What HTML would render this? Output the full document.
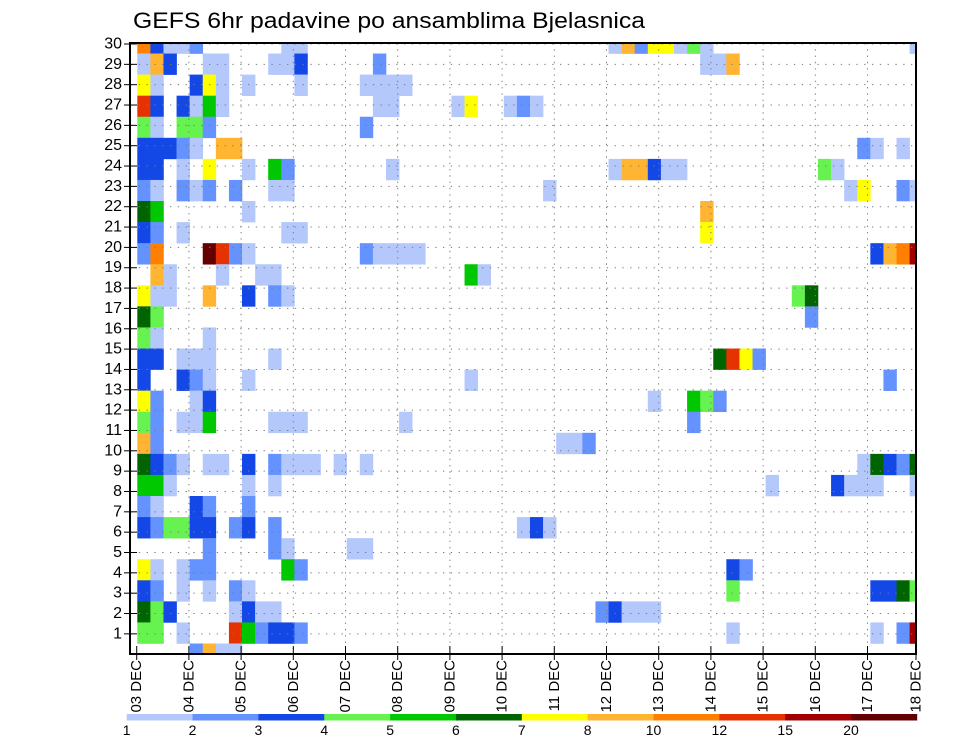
<!DOCTYPE html>
<html>
<head>
<meta charset="utf-8">
<style>
  html,body{margin:0;padding:0;background:#fff;}
  svg{display:block;}
  text{font-family:"Liberation Sans", sans-serif;fill:#000;}
</style>
</head>
<body>
<svg id="chart" width="960" height="742" viewBox="0 0 960 742">
  <defs>
    <clipPath id="plotClip"><rect x="131" y="43" width="785" height="611"/></clipPath>
  </defs>
  <text x="133" y="28" font-size="22" textLength="512" lengthAdjust="spacingAndGlyphs">GEFS 6hr padavine po ansamblima Bjelasnica</text>
  <g id="cells" clip-path="url(#plotClip)"></g>
  <g id="grid" clip-path="url(#plotClip)"></g>
  <rect x="130" y="43" width="786" height="611" fill="none" stroke="#000" stroke-width="2"/>
  <g id="yaxis"></g>
  <g id="xaxis"></g>
  <g id="colorbar"></g>
</svg>
<script>
// ---- data ----
const memberLabels = [1,2,3,4,5,6,7,8,9,10,11,12,13,14,15,16,17,18,19,20,21,22,23,24,25,26,27,28,29,30];
const dayLabels = ["03 DEC","04 DEC","05 DEC","06 DEC","07 DEC","08 DEC","09 DEC","10 DEC","11 DEC","12 DEC","13 DEC","14 DEC","15 DEC","16 DEC","17 DEC","18 DEC"];
const levelLabels = ["1","2","3","4","5","6","7","8","10","12","15","20"];
const levelColors = ["#b4c8fc","#6492ff","#1448e6","#66f24f","#00c800","#006400","#ffff00","#ffb432","#ff8000","#e63200","#a00000","#640000"];
// each row: "col:level" pairs (level 1..12), rows ordered top to bottom
const cellRows = [
 "0:9 1:3 2:1 3:1 4:2 11:1 12:1 36:1 37:8 38:2 39:7 40:7 41:1 42:4 43:1 59:1",
 "0:1 1:8 2:3 5:1 6:1 10:1 11:1 12:3 18:2 43:1 44:1 45:8",
 "0:7 1:1 4:3 5:7 6:1 8:1 12:1 17:1 18:1 19:1 20:1",
 "0:10 1:3 3:3 4:1 5:5 6:1 18:1 19:1 24:1 25:7 28:1 29:2 30:1",
 "0:4 1:1 3:4 4:4 5:2 17:2",
 "0:3 1:3 2:3 3:2 4:1 6:8 7:8 55:2 56:1 58:1",
 "0:3 1:3 3:1 5:7 8:1 10:5 11:2 19:1 36:1 37:8 38:8 39:3 40:1 41:1 52:4 53:1",
 "0:2 1:1 3:2 4:1 5:2 7:2 10:1 11:1 31:1 54:1 55:7 58:2 59:1",
 "0:6 1:5 8:1 43:8",
 "0:3 1:2 3:1 11:1 12:1 43:7",
 "0:2 1:9 5:12 6:10 7:2 8:1 17:2 18:1 19:1 20:1 21:1 56:3 57:8 58:9 59:11",
 "1:8 2:1 6:1 9:1 10:1 25:5 26:1",
 "0:7 1:1 2:1 5:8 8:3 10:2 11:1 50:4 51:6",
 "0:6 1:4 51:2",
 "0:4 1:1 5:1",
 "0:3 1:3 3:1 4:1 5:1 10:1 44:6 45:10 46:7 47:2",
 "0:3 3:3 4:2 5:1 8:1 25:1 57:2",
 "0:7 1:2 4:1 5:3 39:1 42:5 43:4 44:2",
 "0:4 1:2 3:1 4:1 5:5 10:1 11:1 12:1 20:1 42:2",
 "0:8 1:2 32:1 33:1 34:2",
 "0:6 1:3 2:2 3:1 5:1 6:1 8:3 10:2 11:1 12:1 13:1 15:1 17:1 55:1 56:6 57:3 58:2 59:6",
 "0:5 1:5 2:1 8:1 10:1 48:1 53:3 54:1 55:1 56:1 59:1",
 "0:2 1:1 4:3 5:2 8:2",
 "0:3 1:2 2:4 3:4 4:3 5:3 7:2 8:3 10:2 29:1 30:3 31:1",
 "5:2 10:2 11:1 16:1 17:1",
 "0:7 1:1 3:1 4:2 5:2 11:5 12:2 45:3 46:2",
 "0:3 1:2 3:1 5:1 7:2 8:1 45:4 56:3 57:3 58:6 59:4",
 "0:6 1:4 2:3 7:1 8:3 9:1 10:1 35:2 36:3 37:1 38:1 39:1",
 "0:4 1:4 3:1 7:10 8:5 9:2 10:3 11:3 12:2 45:1 56:1 58:2 59:11",
 "4:2 5:8 6:1 7:1"
];

// ---- layout / scales ----
const NS = "http://www.w3.org/2000/svg";
const colX = c => 137.3 + 13.09 * c;
const colW = 13.09;
const rowY = j => 43 + 21.07 * j - 10.535;
const rowH = 21.07;
const memberY = m => 44 + 20.34 * (30 - m);
const dayX = k => 136.7 + 52.2 * k;
const cbX = i => 126.7 + 65.85 * i;

function mk(tag, attrs, parent){
  const el = document.createElementNS(NS, tag);
  for (const k in attrs) el.setAttribute(k, attrs[k]);
  parent.appendChild(el);
  return el;
}

// cells
const gCells = document.getElementById("cells");
cellRows.forEach((row, j) => {
  row.trim().split(/\s+/).forEach(pair => {
    const [c, lv] = pair.split(":").map(Number);
    const r = mk("rect", {x: colX(c), y: rowY(j), width: colW + 0.3, height: rowH + 0.3, fill: levelColors[lv - 1]}, gCells);
    
    
  });
});

// grid
const gGrid = document.getElementById("grid");
memberLabels.forEach(m => {
  const l = mk("line", {x1: 131, x2: 916, y1: memberY(m), y2: memberY(m), stroke: "#7a7a7a", "stroke-width": 1, "stroke-dasharray": "1.3 6.5"}, gGrid);
  
  
});
dayLabels.forEach((d, k) => {
  if (k === 0) return;
  const l = mk("line", {x1: dayX(k), x2: dayX(k), y1: 43, y2: 654, stroke: "#7a7a7a", "stroke-width": 1, "stroke-dasharray": "1.3 5"}, gGrid);
  
  
});

// y axis
const gY = document.getElementById("yaxis");
memberLabels.forEach(m => {
  const t = mk("line", {x1: 124, x2: 137, y1: memberY(m), y2: memberY(m), stroke: "#000", "stroke-width": 1}, gY);
  
  
  const tx = mk("text", {x: 122, y: memberY(m), "font-size": 16, "text-anchor": "end", "dominant-baseline": "central"}, gY);
  tx.textContent = m;
  
  
});

// x axis
const gX = document.getElementById("xaxis");
dayLabels.forEach((d, k) => {
  const x = Math.min(dayX(k), 916);
  const t = mk("line", {x1: x, x2: x, y1: 646, y2: 660, stroke: "#000", "stroke-width": 1}, gX);
  
  
  const tx = mk("text", {x: x, y: 660, "font-size": 15, "text-anchor": "end", "dominant-baseline": "central", transform: "rotate(-90 " + x + " 660)"}, gX);
  tx.textContent = d;
  
  
});

// colorbar
const gCB = document.getElementById("colorbar");
levelColors.forEach((col, i) => {
  const r = mk("rect", {x: cbX(i), y: 714, width: 65.85 + 0.3, height: 6.5, fill: col}, gCB);
  
  
});
levelLabels.forEach((lab, i) => {
  const tx = mk("text", {x: cbX(i), y: 735, "font-size": 14, "text-anchor": "middle"}, gCB);
  tx.textContent = lab;
  
  
});
</script>
</body>
</html>
